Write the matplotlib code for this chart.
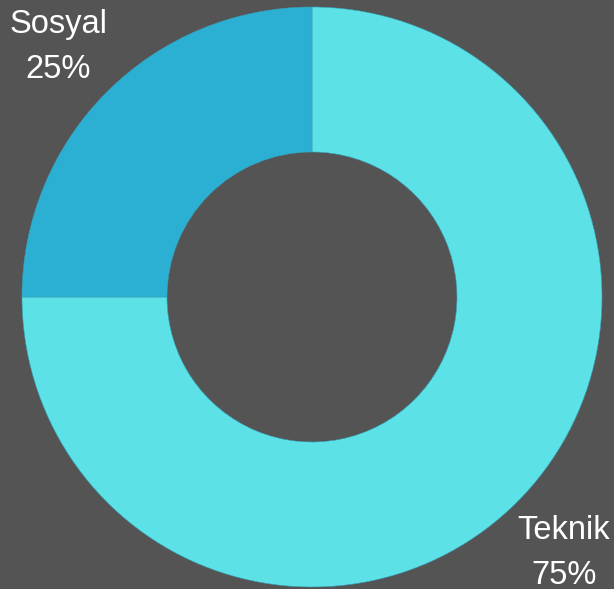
import matplotlib
matplotlib.use("Agg")
import matplotlib.pyplot as plt

categories = ["Teknik", "Sosyal"]
values = [75, 25]
colors = ["#5ce1e6", "#2bb0d3"]
labels_pct = ["75%", "25%"]

W, H = 614, 589
fig = plt.figure(figsize=(W / 100, H / 100), dpi=100)
fig.patch.set_facecolor("#545454")
ax = fig.add_axes([0, 0, 1, 1])
ax.set_facecolor("#545454")

cx, cy, R = 312, 292, 290
ax.pie(values, colors=colors, startangle=90, counterclock=False,
       center=(cx, cy), radius=R, frame=True,
       wedgeprops=dict(width=R / 2, edgecolor="#3a9fb8", linewidth=0.4))
ax.set_xlim(0, W)
ax.set_ylim(0, H)
ax.set_aspect("equal")
ax.axis("off")

font = dict(family=["Liberation Sans", "DejaVu Sans"], color="white", fontsize=23.5,
            ha="center", va="baseline")
ax.text(58, H - 33, categories[1], **font)
ax.text(58, H - 78, labels_pct[1], **font)
ax.text(564, H - 539, categories[0], **font)
ax.text(564, H - 584, labels_pct[0], **font)

fig.savefig("out.png", dpi=100, facecolor=fig.get_facecolor())
